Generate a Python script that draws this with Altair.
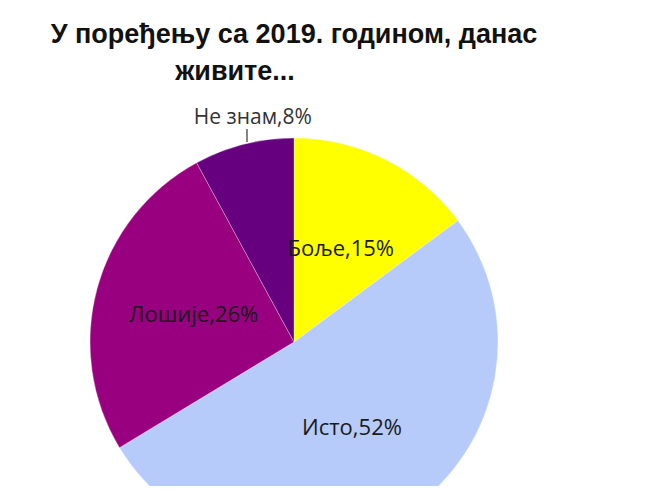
import altair as alt
import pandas as pd

categories = ["Боље", "Исто", "Лошије", "Не знам"]
values = [15, 52, 26, 8]
order = [1, 2, 3, 4]
colors = ["#FFFF00", "#B7CBFA", "#99007F", "#66007F"]
title_lines = ["У поређењу са 2019. годином, данас", "живите..."]

df = pd.DataFrame({
    "category": categories,
    "value": values,
    "order": order,
    "label": [f"{c},{v}%" for c, v in zip(categories, values)],
})

CX, CY, R = 286, 334, 204

base = alt.Chart(df).encode(
    theta=alt.Theta("value:Q", stack=True),
    order=alt.Order("order:Q"),
)

pie = base.mark_arc(outerRadius=R, stroke="#ffffff", strokeWidth=0.3).encode(
    x=alt.value(CX), y=alt.value(CY),
    color=alt.Color("category:N", scale=alt.Scale(domain=categories, range=colors), legend=None),
)

inner = base.mark_text(radius=104, font="Open Sans", fontSize=22, color="#1a1a1a").encode(
    x=alt.value(CX), y=alt.value(CY),
    text="label:N",
    opacity=alt.condition(alt.datum.category == "Не знам", alt.value(0), alt.value(1)),
)

outer = base.mark_text(radius=232, dx=16, dy=1, font="Open Sans", fontSize=21, color="#333333").encode(
    x=alt.value(CX), y=alt.value(CY),
    text="label:N",
    opacity=alt.condition(alt.datum.category == "Не знам", alt.value(1), alt.value(0)),
)

leader = alt.Chart(pd.DataFrame({"a": [0]})).mark_rule(color="#333333", strokeWidth=1.2).encode(
    x=alt.value(239), y=alt.value(121), y2=alt.value(134)
)

t1 = alt.Chart(pd.DataFrame({"t": [title_lines[0]]})).mark_text(
    font="Liberation Sans", fontWeight="bold", fontSize=27, color="#111111", baseline="middle"
).encode(text="t:N", x=alt.value(286), y=alt.value(27))

t2 = alt.Chart(pd.DataFrame({"t": [title_lines[1]]})).mark_text(
    font="Liberation Sans", fontWeight="bold", fontSize=27, color="#111111", baseline="middle"
).encode(text="t:N", x=alt.value(227), y=alt.value(64))

chart = alt.layer(pie, inner, outer, leader, t1, t2).properties(
    width=642, height=478, padding=0, autosize=alt.AutoSizeParams(type="none")
).configure_view(stroke=None)

chart.save("out.html", embed_options={"renderer": "svg", "actions": False})
